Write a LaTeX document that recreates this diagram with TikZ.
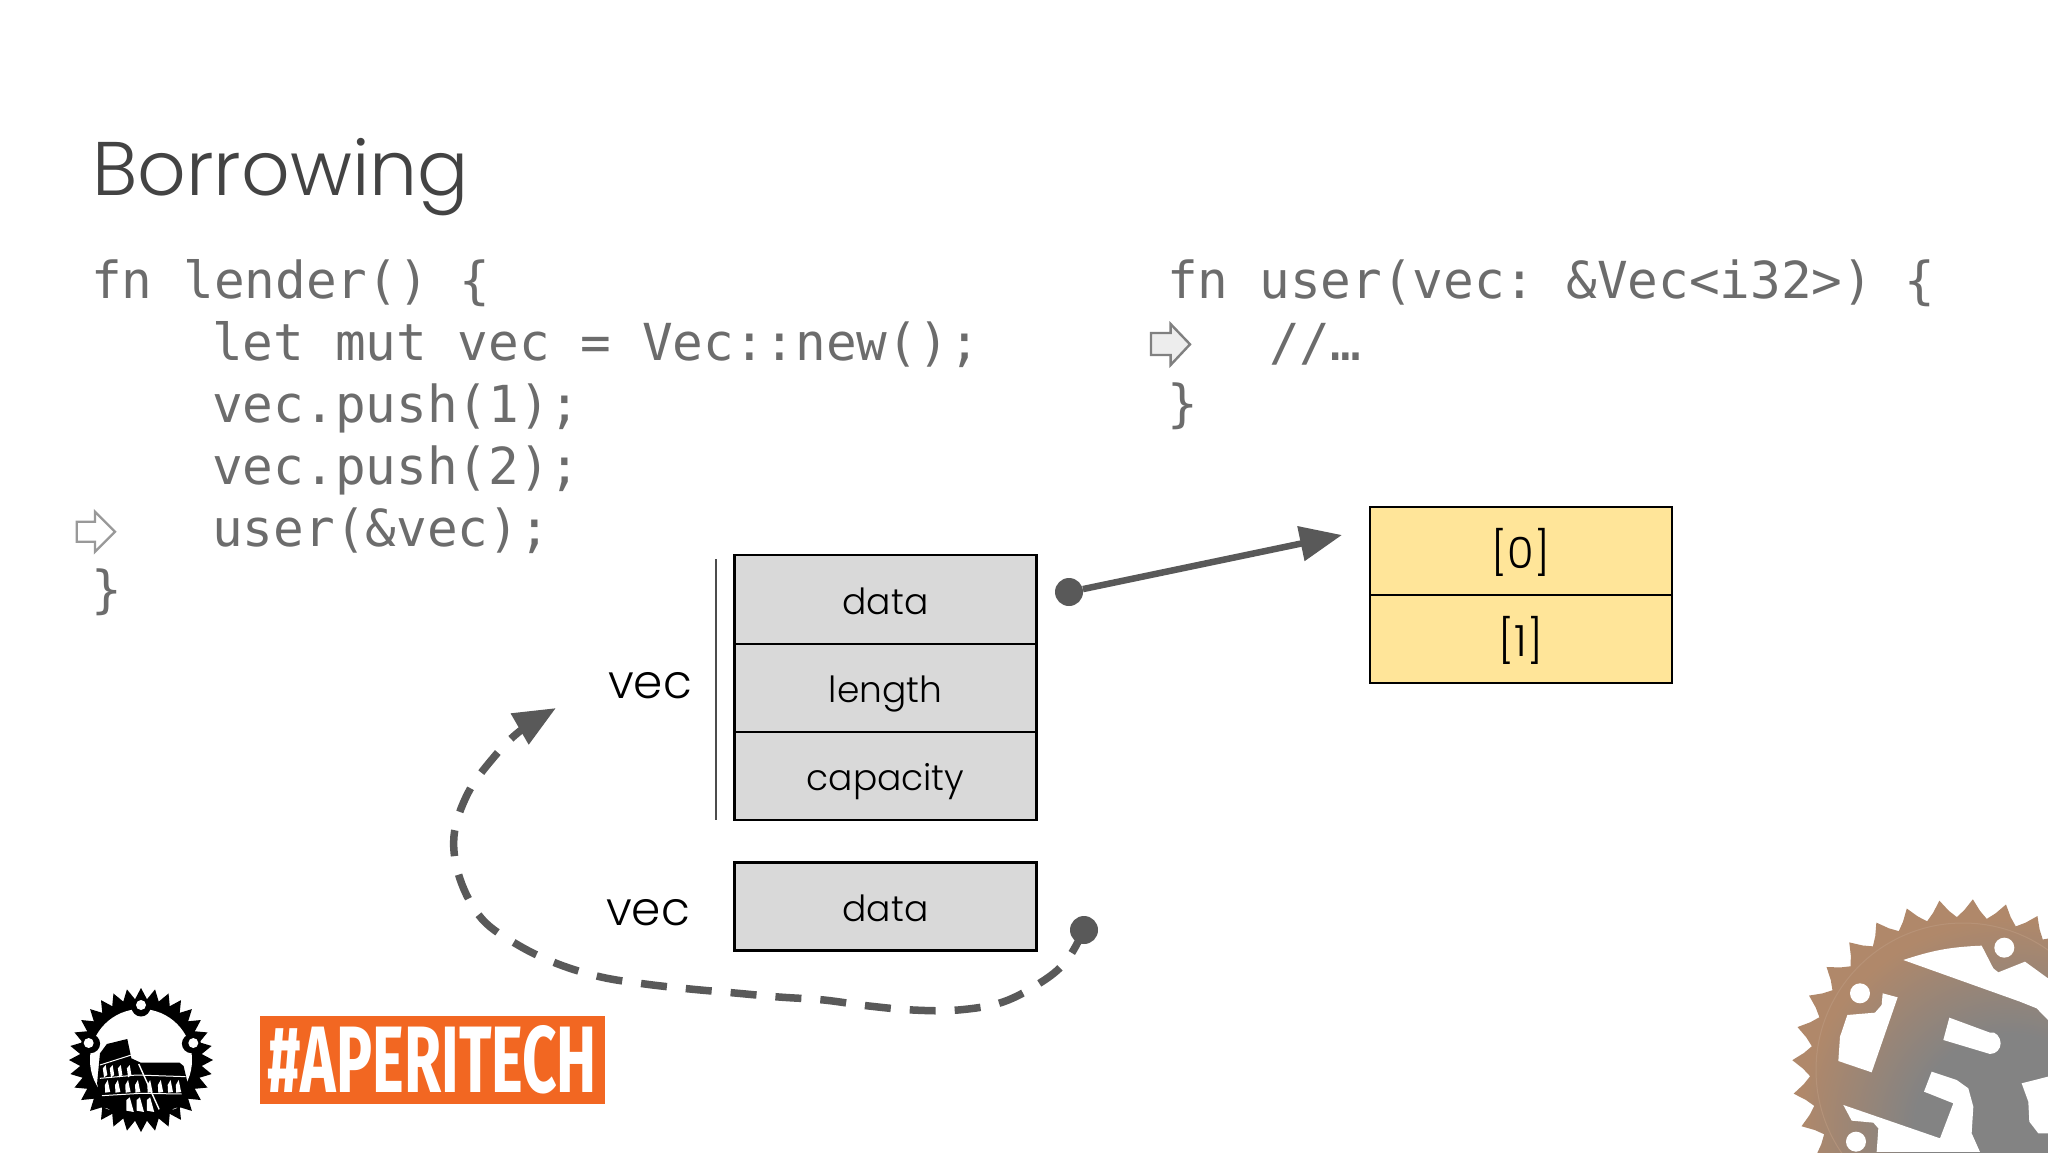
\documentclass[tikz,border=0pt]{standalone}
\usepackage{fontspec}
\usetikzlibrary{arrows.meta,calc}
\setmainfont{Poppins Light}
\newfontfamily\codefont{DejaVu Sans Mono}
\newfontfamily\bannerfont{Fira Sans}[Scale=1]
\definecolor{arrowgrey}{HTML}{595959}
\definecolor{titlegrey}{HTML}{434343}
\definecolor{codegrey}{HTML}{6C6C6C}
\definecolor{boxgrey}{HTML}{D9D9D9}
\definecolor{boxyellow}{HTML}{FFE599}
\definecolor{bannerorange}{HTML}{F26722}
\definecolor{rustcore}{HTML}{838383}
\definecolor{rustrim}{HTML}{B0886A}
\pgfdeclareradialshading{rustshade}{\pgfpointorigin}{color(0bp)=(rustcore);color(10bp)=(rustcore);color(22bp)=(rustrim);color(50bp)=(rustrim)}
\tikzset{
  x=1pt,y=-1pt,
  codeline/.style={anchor=base west,inner sep=0pt,text=codegrey,font=\codefont\fontsize{51}{51}\selectfont\frenchspacing},
  cell/.style={draw=black,line width=2.6pt,minimum width=302pt,anchor=north west,inner sep=0pt,outer sep=0pt,text=black},
  greycell/.style={cell,fill=boxgrey,font=\fontsize{36}{36}\selectfont,text height=29pt,text depth=0pt},
  yellowcell/.style={cell,fill=boxyellow,font=\fontsize{43}{43}\selectfont,text height=34pt,text depth=0pt},
  vlabel/.style={anchor=base,inner sep=0pt,font=\fontsize{47}{47}\selectfont,text=black},
  dotend/.style={circle,fill=arrowgrey,inner sep=0pt,minimum size=28pt},
  pointer/.style={draw=#1,line width=2.4pt,line join=miter},
  link/.style={draw=arrowgrey,line width=6.5pt,-{Triangle[length=42pt,width=34pt]}},
}
\begin{document}
\begin{tikzpicture}
\useasboundingbox (0,0) rectangle (2048,1152);
\clip (0,0) rectangle (2048,1152);
\fill[white] (0,0) rectangle (2048,1152);

\node (title) [anchor=base west,inner sep=0pt,text=titlegrey,font=\fontsize{76}{76}\selectfont] at (92,195) {Borrowing};

\node (l1) [codeline] at (91,298.5) {fn lender() \{};
\node (l2) [codeline] at (212,360.5) {let mut vec = Vec::new();};
\node (l3) [codeline] at (212,422.5) {vec.push(1);};
\node (l4) [codeline] at (212,484.5) {vec.push(2);};
\node (l5) [codeline] at (212,546.5) {user(\&vec);};
\node (l6) [codeline] at (91,607) {\}};
\node (r1) [codeline] at (1167,298.5) {fn user(vec: \&Vec<i32>) \{};
\node (r2) [codeline] at (1269,360.5) {//…};
\node (r3) [codeline] at (1167,421) {\}};

% pointers
\draw[pointer=black!40,fill=white] (76.7,521.7) -- (95,521.7) -- (95,511.7) -- (115,531.7) -- (95,551.7) -- (95,541.7) -- (76.7,541.7) -- cycle;
\draw[pointer=black!50,fill=black!7] (1151,333) -- (1170.6,333) -- (1170.6,324) -- (1190,344.3) -- (1170.6,365) -- (1170.6,355) -- (1151,355) -- cycle;

% stack cells
\node (data) [greycell,minimum height=89pt] at (734.5,555) {data};
\node (length) [greycell,minimum height=88pt] at (734.5,644) {length};
\node (capacity) [greycell,minimum height=88pt] at (734.5,732) {capacity};
\node (ref) [greycell,minimum height=88pt] at (734.5,862.5) {data};
\node (h0) [yellowcell,minimum height=88pt] at (1370,507) {[0]};
\node (h1) [yellowcell,minimum height=88pt] at (1370,595) {[1]};

\draw[line width=1.6pt,draw=black!70] (716,559) -- (716,820);
\node (v1) [vlabel] at (650,698) {vec};
\node (v2) [vlabel] at (648,925) {vec};

% connectors
\node (dotA) [dotend] at (1069,592) {};
\coordinate (heapin) at (1342,535);
\draw[link] (dotA) -- (heapin);
\node (dotB) [dotend] at (1084,930) {};
\coordinate (vecin) at (556,708);
\draw[link,line width=7.5pt,dash pattern=on 26pt off 19pt] plot[smooth,tension=0.6] coordinates {(dotB) (1067,960) (1043,981) (1003,1002) (958,1010) (913,1010) (869,1006) (824,1000) (779,997) (735,993) (690,989) (645,984) (601,977) (558,964) (518,945) (482,919) (460,879) (454,836) (468,793) (494,757) (520,731) (vecin)};

% banner
\node (banner) [fill=bannerorange,minimum width=345pt,minimum height=88pt,inner sep=0pt,outer sep=0pt,anchor=north west] at (260,1016) {};
\node (bannertext) [inner sep=0pt,text=white] at (432.5,1060) {\resizebox{329pt}{67pt}{\bannerfont\bfseries \#APERITECH}};

% aperitech gear
\begin{scope}[shift={(141,1060)}]
  \fill[black] plot[samples at={0,...,127},variable=\k] ({(mod(\k,4)==0?72:(mod(\k,4)==2?61:66))*cos(\k*2.8125+90)},{(mod(\k,4)==0?72:(mod(\k,4)==2?61:66))*sin(\k*2.8125+90)}) -- cycle;
  \fill[white] (0,0) circle (51);
  \foreach \a in {-90,-18,54,126,198} {
    \fill[black] (\a:53) circle (9.5);
  }
  \foreach \a in {-90,-18,54,126,198} {
    \fill[white] (\a:55) circle (5);
  }
\end{scope}
\begin{scope}[shift={(0,940)},x=0.408pt,y=-0.3333pt]
  \fill[black] (238,430) -- (245,340) -- (262,312) -- (312,297) -- (322,355) -- (345,368) -- (440,368) -- (450,378) -- (460,430) -- (440,500) -- (345,540) -- (250,500) -- cycle;
  \draw[white,line width=1pt] (245,375) -- (322,345);
  \draw[white,line width=1pt] (245,415) -- (335,405) -- (455,410);
  \draw[white,line width=1pt] (250,467) -- (345,460) -- (445,462);
  \draw[white,line width=1.4pt] (340,372) -- (390,508);
  \foreach \x in {255,272,292,314} { \fill[white] (\x,412) -- (\x-3,385) -- (\x+4,375) -- (\x+8,405) -- cycle; }
  \foreach \x in {258,283,308,332,362,388,412,432} { \fill[white] (\x,458) -- (\x-1,435) -- (\x+6,420) -- (\x+12,456) -- cycle; }
  \foreach \x in {310,335,360} { \fill[white] (\x,512) -- (\x,480) -- (\x+8,472) -- (\x+18,516) -- cycle; }
\end{scope}

% rust gear
\begin{scope}
  \clip plot[samples at={0,...,127},variable=\k] ({1963+(mod(\k,4)==0?171:(mod(\k,4)==2?153:160))*cos(\k*2.8125-86.7)},{1070+(mod(\k,4)==0?171:(mod(\k,4)==2?153:160))*sin(\k*2.8125-86.7)}) -- cycle;
  \shade[shading=rustshade] (1770,890) rectangle (2250,1370);
  \draw[rustrim!85!white,line width=1pt,opacity=0.6] (1963,1070) circle (147);
\end{scope}
\begin{scope}[shift={(1760,880)},x=0.3333pt,y=-0.3333pt]
  \fill[white] (235,543) -- (240,470) -- (262,405) -- (345,398) -- (365,375) -- (368,340) -- (413,352) -- (335,577) -- cycle;
  \fill[white] (568,413) -- (690,458) to[out=20,in=90] (722,490) to[out=-90,in=0] (690,522) -- (550,480) -- cycle;
  \fill[white] (430,240) to[bend left=8] (665,197) -- (700,265) -- (715,277) -- (795,245) -- (864,295) -- (864,420) -- (830,385) -- (780,365) -- cycle;
  \fill[white] (250,675) -- (540,775) -- (580,670) -- (492,635) -- (515,575) -- (590,600) -- (625,625) -- (640,680) -- (635,760) -- (660,816) -- (350,816) -- (355,745) -- (340,728) -- (275,722) -- cycle;
  \fill[white] (864,590) -- (785,610) -- (805,665) -- (808,725) -- (835,760) -- (864,760) -- cycle;
  \fill[white] (733,203) circle (30);
  \fill[white] (300,340) circle (30);
  \fill[white] (288,785) circle (30);
\end{scope}
\end{tikzpicture}
\end{document}
